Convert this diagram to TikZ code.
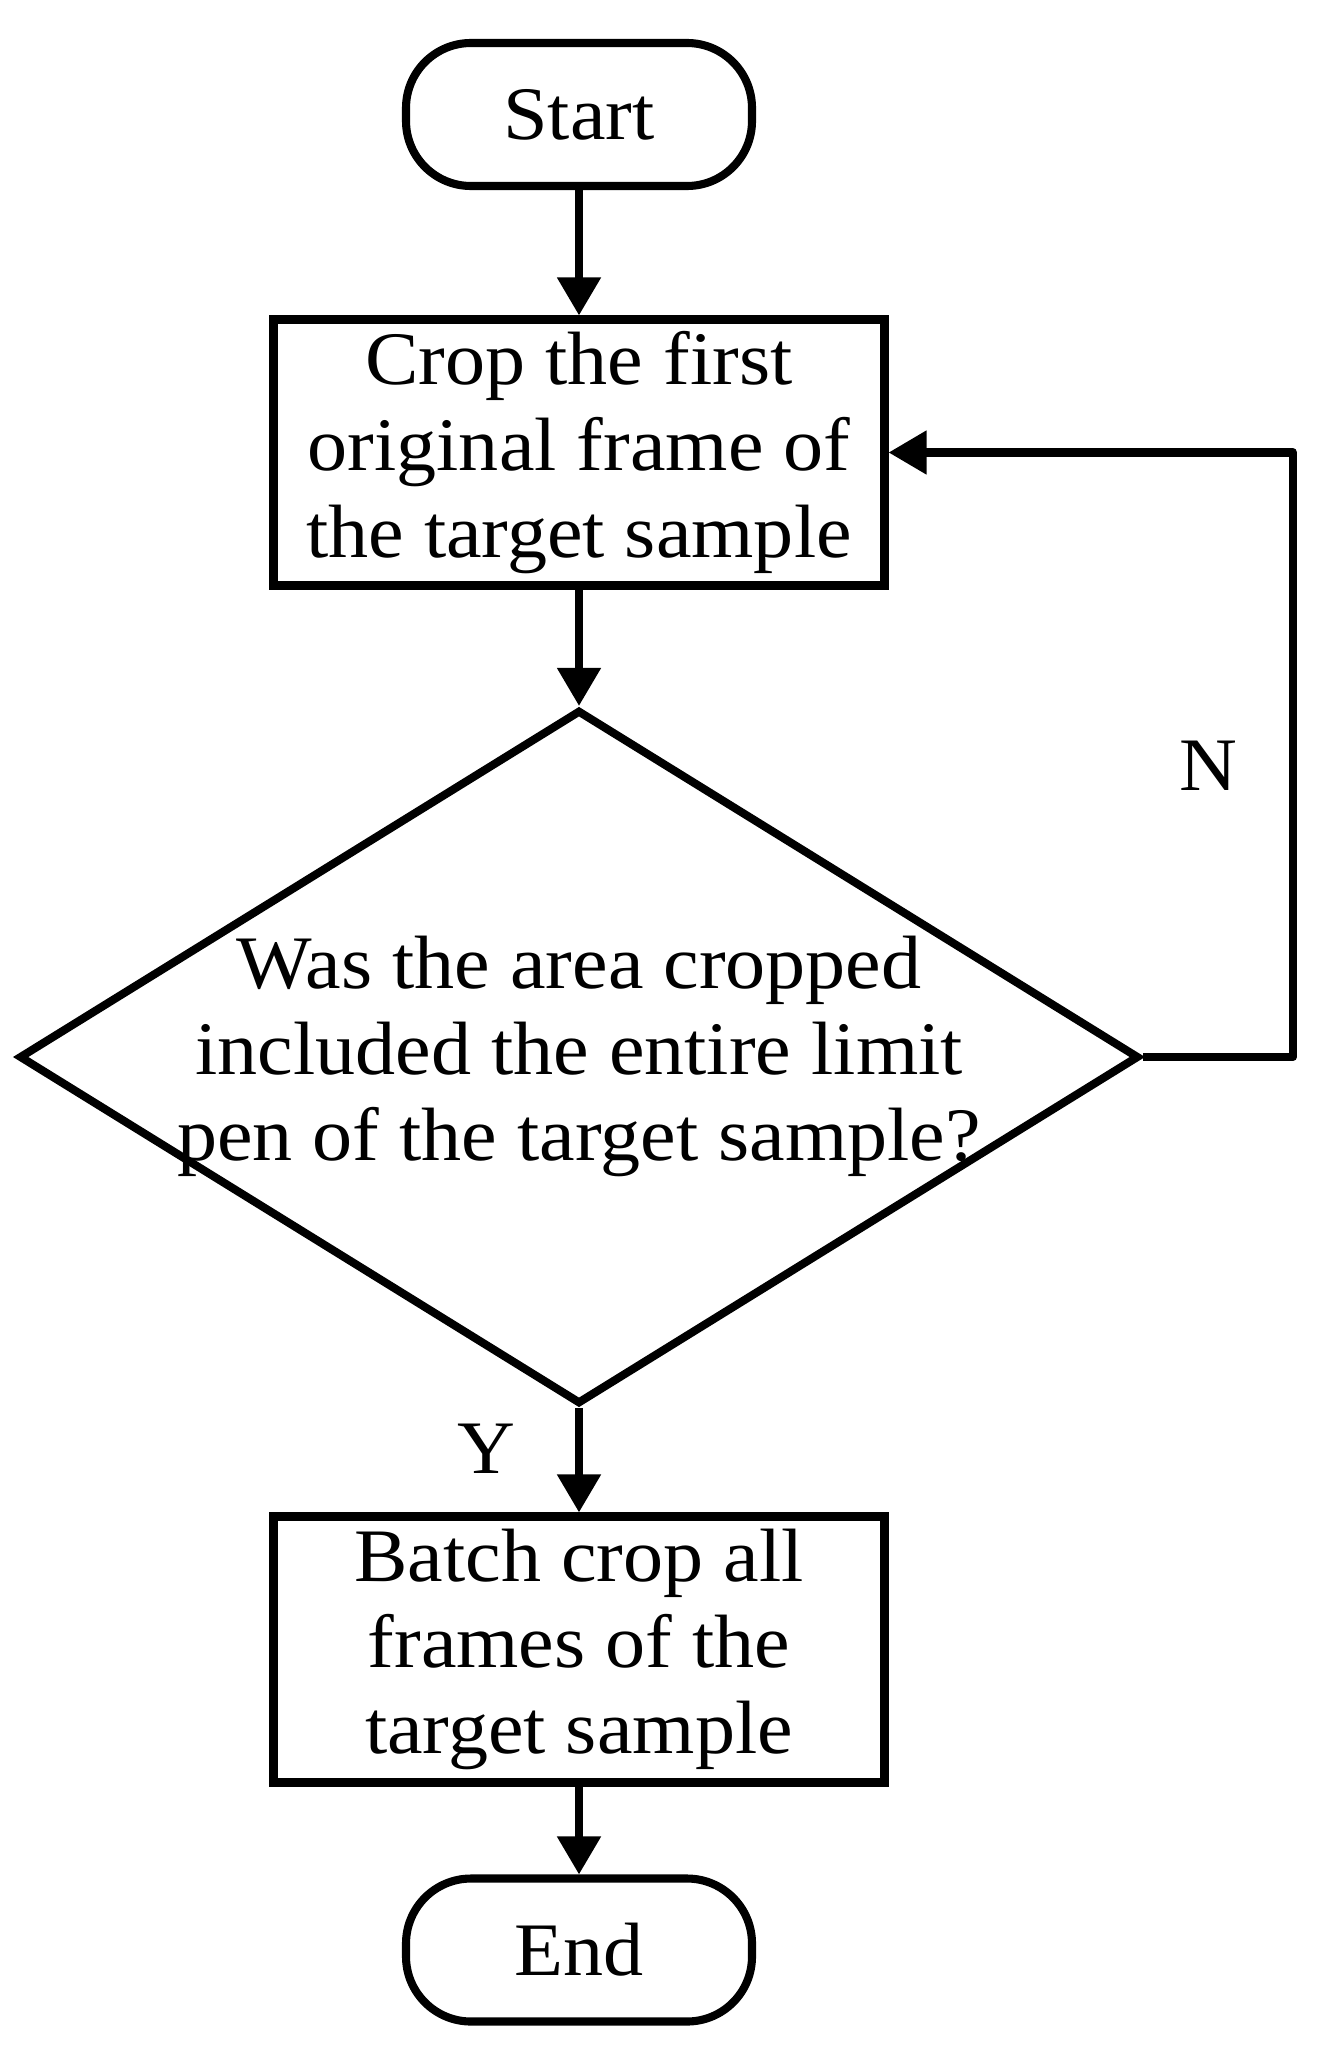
\documentclass[tikz,border=0pt]{standalone}
\usepackage{fontspec}
\setmainfont[FakeStretch=1.06]{Liberation Serif}
\usetikzlibrary{arrows.meta}
\usetikzlibrary{shapes.geometric}

\tikzset{
    flowline/.style={line width=4.6pt},
    terminal/.style={flowline, draw, rectangle, rounded corners=1.3cm, minimum width=6.92cm, minimum height=2.86cm},
    process/.style={flowline, draw, rectangle, align=center, minimum width=12.22cm, minimum height=5.32cm, inner sep=0pt},
    decision/.style={flowline, draw, diamond, minimum width=22.4cm, minimum height=13.88cm, inner sep=0pt},
    arrow/.style={flowline, -{Triangle[length=0.76cm,width=0.84cm]}}
}

\begin{document}
\begin{tikzpicture}[font=\fontsize{43}{49}\selectfont]
            \useasboundingbox (0,0) rectangle (26.36,-40.94);

            \node[terminal] (start) at (11.58,-2.29) {Start};
            \node[process] (crop) at (11.58,-9.05) {Crop the first\\original frame of\\the target sample};
            \node[decision] (check) at (11.58,-21.14) {\makebox[0pt]{\begin{tabular}{@{}c@{}}Was the area cropped\\included the entire limit\\pen of the target sample?\end{tabular}}};
            \node[process] (batch) at (11.58,-32.99) {Batch crop all\\frames of the\\target sample};
            \node[terminal] (end) at (11.58,-39.0) {End};
            \coordinate (loop) at (25.86,-21.14);

            \draw[arrow] (start) -- (crop);
            \draw[arrow] (crop) -- (check);
            \draw[arrow] (check) -- (batch);
            \draw[arrow] (batch) -- (end);
            \draw[arrow, line join=round] (check.east) -- (loop) |- (crop.east);

            \node (no) at (24.16,-15.32) {N};
            \node (yes) at (9.72,-28.98) {Y};
        \end{tikzpicture}
\end{document}
